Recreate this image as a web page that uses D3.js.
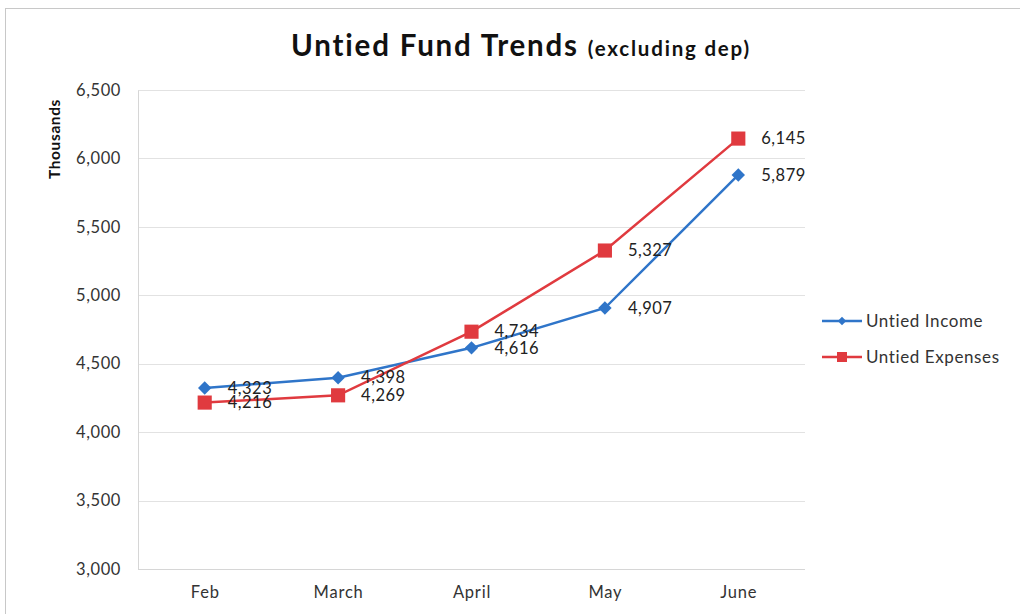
<!DOCTYPE html>
<html>
<head>
<meta charset="utf-8">
<script src="https://cdn.jsdelivr.net/npm/d3@7"></script>
<style>
  html, body { margin: 0; padding: 0; background: #fff; }
  svg { display: block; font-family: Lato, "Open Sans", sans-serif; }
</style>
</head>
<body>
<svg id="chart" width="1020" height="614"></svg>
<script>
// Monthly untied fund figures, in thousands
const months = ["Feb", "March", "April", "May", "June"];
const incomeValues = [4323, 4398, 4616, 4907, 5879];
const expenseValues = [4216, 4269, 4734, 5327, 6145];
const seriesNames = ["Untied Income", "Untied Expenses"];
const yTicks = [3000, 3500, 4000, 4500, 5000, 5500, 6000, 6500];

const blue = "#2f75c9";
const red = "#e03a3f";
const fmt = d3.format(",");

const svg = d3.select("#chart");
const plot = { left: 138, right: 805, top: 90, bottom: 569 };

// outer chart frame
svg.append("rect")
  .attr("x", 5.5).attr("y", 8.5).attr("width", 1030).attr("height", 620)
  .attr("fill", "none").attr("stroke", "#c8c8c8").attr("stroke-width", 1);

const x = d3.scalePoint().domain(months).range([plot.left, plot.right]).padding(0.5);
const y = d3.scaleLinear().domain([3000, 6500]).range([plot.bottom, plot.top]);

// horizontal gridlines
svg.append("g").selectAll("line").data(yTicks.slice(1)).join("line")
  .attr("x1", plot.left).attr("x2", plot.right)
  .attr("y1", d => Math.round(y(d)) + 0.5).attr("y2", d => Math.round(y(d)) + 0.5)
  .attr("stroke", "#e2e2e2").attr("stroke-width", 1);

// y axis
const yAxis = svg.append("g")
  .attr("transform", `translate(${plot.left},0)`)
  .call(d3.axisLeft(y).tickValues(yTicks).tickFormat(fmt).tickSize(0).tickPadding(17));
yAxis.select(".domain").attr("stroke", "#d6d6d6");
yAxis.selectAll("text").attr("font-size", 16.5).attr("fill", "#333")
  .attr("letter-spacing", 0.6)
  .attr("font-family", "Lato, sans-serif");

// x axis
const xAxis = svg.append("g")
  .attr("transform", `translate(0,${plot.bottom})`)
  .call(d3.axisBottom(x).tickSize(0).tickPadding(17));
xAxis.select(".domain").attr("stroke", "#d6d6d6").attr("d", `M${plot.left},0.5H${plot.right}`);
xAxis.selectAll("text").attr("font-size", 16.5).attr("fill", "#333")
  .attr("letter-spacing", 0.8)
  .attr("font-family", "Lato, sans-serif");

// y axis title
svg.append("text")
  .attr("transform", "translate(60,139) rotate(-90)")
  .attr("text-anchor", "middle")
  .attr("font-size", 15.5).attr("font-weight", "bold").attr("fill", "#111")
  .attr("letter-spacing", 0.6)
  .text("Thousands");

// chart title
const title = svg.append("text")
  .attr("x", 521).attr("y", 56)
  .attr("text-anchor", "middle")
  .attr("font-weight", "bold").attr("fill", "#111");
title.append("tspan").attr("font-size", 29.5).attr("letter-spacing", 1.8).text("Untied Fund Trends ");
title.append("tspan").attr("font-size", 20.5).attr("letter-spacing", 1.8).text("(excluding dep)");

const series = [
  { name: seriesNames[0], values: incomeValues, color: blue, shape: d3.symbolSquare, size: 90, rotate: 45 },
  { name: seriesNames[1], values: expenseValues, color: red, shape: d3.symbolSquare, size: 200, rotate: 0 }
];

const line = d3.line().x((d, i) => x(months[i])).y(d => y(d));

series.forEach(s => {
  svg.append("path")
    .datum(s.values)
    .attr("fill", "none")
    .attr("stroke", s.color)
    .attr("stroke-width", 2.5)
    .attr("d", line);
});

// markers (expenses drawn first, income on top)
[series[1], series[0]].forEach(s => {
  svg.append("g").selectAll("path").data(s.values).join("path")
    .attr("transform", (d, i) => `translate(${x(months[i])},${y(d)}) rotate(${s.rotate})`)
    .attr("d", d3.symbol().type(s.shape).size(s.size))
    .attr("fill", s.color);
});

// value labels
series.forEach(s => {
  svg.append("g").selectAll("text").data(s.values).join("text")
    .attr("x", (d, i) => x(months[i]) + 23)
    .attr("y", d => y(d))
    .attr("dy", "0.35em")
    .attr("font-size", 16.5).attr("fill", "#222")
    .attr("letter-spacing", 0.5)
    .attr("font-family", "Lato, sans-serif")
    .text(d => fmt(d));
});

// legend
const legend = svg.append("g").attr("transform", "translate(822,321)");
series.forEach((s, i) => {
  const g = legend.append("g").attr("transform", `translate(0,${i * 36})`);
  g.append("line").attr("x1", 0).attr("x2", 40).attr("y1", 0).attr("y2", 0)
    .attr("stroke", s.color).attr("stroke-width", 2.5);
  g.append("path").attr("transform", `translate(20,0) rotate(${s.rotate})`)
    .attr("d", d3.symbol().type(s.shape).size(i === 0 ? 36 : 100))
    .attr("fill", s.color);
  g.append("text").attr("x", 44).attr("y", 0).attr("dy", "0.35em")
    .attr("font-size", 17).attr("fill", "#333")
    .attr("letter-spacing", 0.6)
    .attr("font-family", "Lato, sans-serif")
    .text(s.name);
});
</script>
</body>
</html>
